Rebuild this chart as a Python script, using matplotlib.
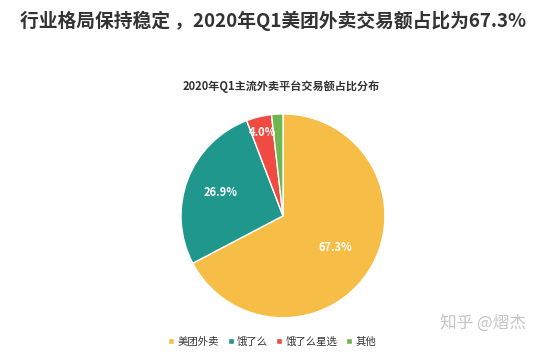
import numpy as np
import matplotlib.pyplot as plt
from matplotlib.lines import Line2D

plt.rcParams['font.family'] = ['Noto Sans CJK SC', 'DejaVu Sans']

# dane
platformy = ['美团外卖', '饿了么', '饿了么星选', '其他']
udzialy = [67.3, 26.9, 4.0, 1.8]
kolory = ['#F6BE47', '#1F978D', '#EF4B43', '#6DB650']
etykiety = ['67.3%', '26.9%', '4.0%', '']

fig = plt.figure(figsize=(5.39, 3.55), dpi=100)
fig.patch.set_facecolor('white')

fig.text(0.037, 0.94, '行业格局保持稳定 ，2020年Q1美团外卖交易额占比为67.3%',
         fontsize=13.5, fontweight='bold', color='#333333', va='center', ha='left')
fig.text(0.522, 0.755, '2020年Q1主流外卖平台交易额占比分布',
         fontsize=8, fontweight='bold', color='#333333', va='center', ha='center')

ax = fig.add_axes([0.525 - 0.191, 0.392 - 0.29, 0.382, 0.58])
wedges, texts = ax.pie(udzialy, colors=kolory, startangle=90, counterclock=False,
                       wedgeprops=dict(edgecolor='white', linewidth=1))
ax.set_xlim(-1.01, 1.01)
ax.set_ylim(-1.01, 1.01)
ax.set_aspect('equal')

# etykiety procentowe
pozycje = [0.6, 0.65, 0.84]
kat = 90
for w, lab, r, v in zip(wedges, etykiety, pozycje + [0], udzialy):
    srodek = kat - v * 3.6 / 2
    kat -= v * 3.6
    if lab:
        ax.text(r * np.cos(np.radians(srodek)), r * np.sin(np.radians(srodek)), lab,
                color='white', fontsize=8, fontweight='bold', ha='center', va='center')

uchwyty = [Line2D([0], [0], marker='s', color='w', markerfacecolor=k, markersize=4)
           for k in kolory]
fig.legend(uchwyty, platformy, loc='center', bbox_to_anchor=(0.505, 0.037), ncol=4,
           frameon=False, fontsize=7.5, handlelength=0.6, handletextpad=0.3,
           columnspacing=0.8, labelcolor='#333333')

fig.text(0.897, 0.09, '知乎 @熠杰', fontsize=12, color='#C4C4C4', ha='center', va='center')

plt.savefig('out.png', dpi=100)
